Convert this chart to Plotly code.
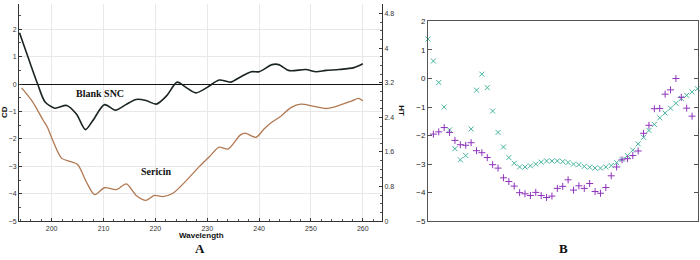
import plotly.graph_objects as go

# ---------- Panel A data ----------
wl_blank = [193.8, 195.5, 197.3, 198.7, 200.6, 202.9, 204.8, 206.5, 207.9, 210.2, 212.3, 214.3,
            216.3, 218.2, 220.2, 222.2, 224.2, 225.9, 227.8, 230.0, 232.3, 234.5, 236.3, 238.5,
            240.0, 242.5, 243.8, 245.8, 249.0, 251.0, 252.9, 255.4, 258.3, 260.0]
cd_blank = [1.87, 0.95, 0.0, -0.64, -0.88, -0.78, -1.1, -1.66, -1.34, -0.75, -0.95, -0.75,
            -0.56, -0.6, -0.73, -0.42, 0.07, -0.12, -0.32, -0.12, 0.15, 0.07, 0.25, 0.45,
            0.45, 0.71, 0.71, 0.49, 0.53, 0.45, 0.5, 0.53, 0.6, 0.74]

wl_ser = [194.2, 196.3, 198.3, 199.2, 200.2, 201.9, 203.5, 205.0, 206.7, 208.3, 210.2, 212.5,
          214.4, 216.3, 218.2, 219.8, 221.4, 223.3, 225.9, 228.5, 230.4, 232.3, 234.0, 236.3,
          237.3, 239.4, 241.0, 242.3, 244.2, 246.2, 248.0, 250.6, 252.9, 255.4, 257.9, 259.2, 260.0]
cd_ser = [-0.14, -0.64, -1.3, -1.58, -2.05, -2.7, -2.82, -2.93, -3.57, -4.03, -3.78, -3.85,
          -3.64, -4.06, -4.24, -4.06, -4.1, -3.99, -3.53, -3.0, -2.65, -2.3, -2.37, -1.87,
          -1.79, -1.94, -1.63, -1.41, -1.17, -0.85, -0.73, -0.81, -0.89, -0.78, -0.61, -0.52, -0.61]

x_ticks_a = [200, 210, 220, 230, 240, 250, 260]
ht_ticks = [0, 0.8, 1.6, 2.4, 3.2, 4, 4.8]
ht_labels = ["0", "0.8", "1.6", "2.4", "3.2", "4", "4.8"]

# ---------- Panel B data ----------
x_b_cyan = list(range(210, 261))
y_b_cyan = [1.38, 0.61, -0.14, -1.0, -1.8, -2.46, -2.85, -2.7, -1.77, -0.41, 0.15, -0.32, -1.14,
            -1.89, -2.4, -2.77, -2.97, -3.10, -3.10, -3.06, -3.0, -2.93, -2.89, -2.89, -2.89,
            -2.91, -2.94, -3.0, -3.02, -3.08, -3.11, -3.14, -3.14, -3.10, -3.05, -2.95, -2.84,
            -2.70, -2.51, -2.29, -2.06, -1.82, -1.61, -1.38, -1.21, -1.04, -0.87, -0.70, -0.59,
            -0.47, -0.36]
x_b_purple = list(range(211, 260))
y_b_purple = [-1.95, -1.87, -1.72, -1.89, -2.17, -2.32, -2.34, -2.25, -2.53, -2.6, -2.77,
              -3.02, -3.14, -3.48, -3.61, -3.77, -4.0, -4.04, -4.10, -3.99, -4.10, -4.17, -4.12,
              -3.85, -3.78, -3.55, -3.91, -3.76, -3.85, -3.68, -3.96, -4.02, -3.82, -3.41, -3.10,
              -2.85, -2.81, -2.70, -2.54, -1.92, -1.64, -1.06, -1.05, -0.55, -0.40, 0.0, -0.66,
              -1.04, -1.32]

W, H = 700, 260

def px_x(p):
    return p / W

def px_y(p):
    return (H - p) / H

fig = go.Figure()

fig.add_trace(go.Scatter(x=wl_blank, y=cd_blank, mode="lines", xaxis="x", yaxis="y",
                         line=dict(color="#1b2424", width=1.6, shape="spline", smoothing=0.8),
                         showlegend=False, cliponaxis=False))
fig.add_trace(go.Scatter(x=wl_ser, y=cd_ser, mode="lines", xaxis="x", yaxis="y",
                         line=dict(color="#b27852", width=1.3, shape="spline", smoothing=0.8),
                         showlegend=False, cliponaxis=False))
fig.add_trace(go.Scatter(x=[], y=[], xaxis="x", yaxis="y2", showlegend=False))

fig.add_trace(go.Scatter(x=x_b_cyan, y=y_b_cyan, mode="markers", xaxis="x2", yaxis="y3",
                         marker=dict(symbol="x-thin", size=5, line=dict(color="#45b39c", width=1)),
                         showlegend=False, cliponaxis=False))
fig.add_trace(go.Scatter(x=x_b_purple, y=y_b_purple, mode="markers", xaxis="x2", yaxis="y3",
                         marker=dict(symbol="cross-thin", size=5, line=dict(color="#8f33bd", width=1)),
                         showlegend=False, cliponaxis=False))

tick_font = dict(family="Arial, Liberation Sans, sans-serif", size=7, color="#333")

fig.update_layout(
    width=W, height=H,
    margin=dict(l=0, r=0, t=0, b=0),
    paper_bgcolor="white", plot_bgcolor="white",
    xaxis=dict(domain=[px_x(19), px_x(382)], range=[193.7, 263.7], anchor="y",
               tickvals=x_ticks_a, showgrid=True, gridcolor="#e8e8e8", gridwidth=1,
               showline=True, linecolor="#333", linewidth=1, ticks="inside", ticklen=3,
               tickcolor="#333", tickfont=tick_font, zeroline=False,
               minor=dict(dtick=2, ticks="inside", ticklen=2, tickcolor="#555", showgrid=False)),
    yaxis=dict(domain=[px_y(225), 1.0], range=[-5, 2.92], anchor="x", dtick=1,
               showgrid=True, gridcolor="#e8e8e8", gridwidth=1,
               showline=True, linecolor="#333", linewidth=1, ticks="inside", ticklen=3,
               tickcolor="#333", tickfont=tick_font,
               zeroline=True, zerolinecolor="#111", zerolinewidth=1.2,
               minor=dict(dtick=0.5, ticks="inside", ticklen=2, tickcolor="#555", showgrid=False)),
    yaxis2=dict(overlaying="y", side="right", anchor="x", range=[0, 5.02],
                tickvals=ht_ticks, ticktext=ht_labels, showgrid=False, zeroline=False,
                showline=True, linecolor="#333", linewidth=1, ticks="inside", ticklen=3,
                tickcolor="#333", tickfont=tick_font,
                minor=dict(dtick=0.2, ticks="inside", ticklen=2, tickcolor="#555")),
    xaxis2=dict(domain=[px_x(428), px_x(698)], range=[210, 260.1], anchor="y3",
                showticklabels=False, showgrid=False, zeroline=False, ticks="",
                showline=True, mirror=True, linecolor="#555", linewidth=1),
    yaxis3=dict(domain=[px_y(225), px_y(18)], range=[-5, 2], anchor="x2", dtick=1,
                showgrid=False, zeroline=False, showline=True, mirror="ticks",
                linecolor="#555", linewidth=1, ticks="inside", ticklen=4, tickcolor="#555",
                tickfont=dict(family="Arial, Liberation Sans, sans-serif", size=8, color="#222")),
)

bold_sans = dict(family="Arial, Liberation Sans, sans-serif", size=8, color="#111")
bold_serif = dict(family="Liberation Serif, Times New Roman, serif", size=10, color="#111")

annos = [
    dict(text="<b>Wavelength</b>", x=px_x(201), y=px_y(240), font=bold_sans),
    dict(text="<b>CD</b>", x=px_x(4), y=px_y(112), font=bold_sans, textangle=-90),
    dict(text="<b>HT</b>", x=px_x(402), y=px_y(110), font=bold_sans, textangle=90),
    dict(text="<b>A</b>", x=px_x(200), y=px_y(253),
         font=dict(family="Liberation Serif, serif", size=13, color="#111")),
    dict(text="<b>B</b>", x=px_x(563), y=px_y(253),
         font=dict(family="Liberation Serif, serif", size=13, color="#111")),
]
for a in annos:
    fig.add_annotation(xref="paper", yref="paper", showarrow=False,
                       xanchor="center", yanchor="middle", **a)

fig.add_annotation(text="<b>Blank SNC</b>", x=209.4, y=-0.36, xref="x", yref="y",
                   showarrow=False, font=bold_serif)
fig.add_annotation(text="<b>Sericin</b>", x=220.2, y=-3.18, xref="x", yref="y",
                   showarrow=False, font=bold_serif)

fig.write_html("out.html", config={"displayModeBar": False},
               post_script="document.body.style.margin='0px';document.body.style.overflow='hidden';")
